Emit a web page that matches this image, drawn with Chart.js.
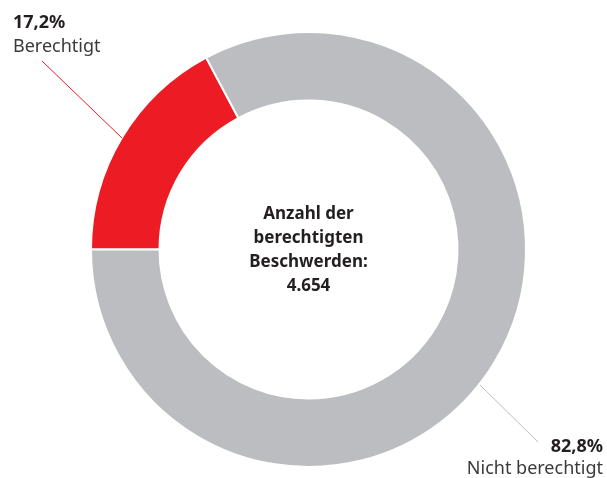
<!DOCTYPE html>
<html>
<head>
<meta charset="utf-8">
<script src="https://cdn.jsdelivr.net/npm/chart.js@4"></script>
<style>
  html, body { margin: 0; padding: 0; background: #fff; }
  #wrap { width: 607px; height: 478px; position: relative; }
</style>
</head>
<body>
<div id="wrap"><canvas id="beschwerdenChart"></canvas></div>
<script>
const categories = ["Berechtigt", "Nicht berechtigt"];
const shares = [17.2, 82.8];
const shareLabels = ["17,2%", "82,8%"];
const colors = ["#ed1c24", "#bcbdc0"];
const centerLines = ["Anzahl der", "berechtigten", "Beschwerden:", "4.654"];

// center text + leader lines with labels
const annotations = {
    id: "annotations",
    afterDraw(chart) {
        const ctx = chart.ctx;
        const arcs = chart.getDatasetMeta(0).data;
        const cx = arcs[0].x, cy = arcs[0].y;

        ctx.save();
        ctx.fillStyle = "#231f20";
        ctx.font = "bold 17px 'Noto Sans'";
        ctx.textAlign = "center";
        ctx.textBaseline = "middle";
        centerLines.forEach((line, i) => {
            ctx.fillText(line, cx, cy - 35 + i * 24);
        });

        // leader lines
        ctx.lineWidth = 1;
        ctx.strokeStyle = "#ed1c24";
        ctx.beginPath();
        ctx.moveTo(42, 61);
        ctx.lineTo(122, 138);
        ctx.stroke();

        ctx.strokeStyle = "#bcbdc0";
        ctx.beginPath();
        ctx.moveTo(480, 385);
        ctx.lineTo(538, 442);
        ctx.stroke();

        // labels
        ctx.textBaseline = "alphabetic";
        ctx.textAlign = "left";
        ctx.fillStyle = "#231f20";
        ctx.font = "bold 18px 'Noto Sans'";
        ctx.fillText(shareLabels[0], 13, 28);
        ctx.fillStyle = "#3a3a3a";
        ctx.font = "18px 'Noto Sans'";
        ctx.fillText(categories[0], 13, 52);

        ctx.textAlign = "right";
        ctx.fillStyle = "#231f20";
        ctx.font = "bold 18px 'Noto Sans'";
        ctx.fillText(shareLabels[1], 603, 452);
        ctx.fillStyle = "#3a3a3a";
        ctx.font = "18px 'Noto Sans'";
        ctx.fillText(categories[1], 603, 474);
        ctx.restore();
    }
};

new Chart(document.getElementById("beschwerdenChart"), {
    type: "doughnut",
    data: {
        labels: categories,
        datasets: [{
            data: shares,
            backgroundColor: colors,
            borderColor: "#ffffff",
            borderWidth: 2
        }]
    },
    options: {
        responsive: true,
        maintainAspectRatio: false,
        animation: false,
        rotation: -90,
        cutout: "68.5%",
        layout: {
            padding: { left: 90, top: 31, right: 80, bottom: 10 }
        },
        plugins: {
            legend: { display: false },
            tooltip: { enabled: false }
        }
    },
    plugins: [annotations]
});
</script>
</body>
</html>
